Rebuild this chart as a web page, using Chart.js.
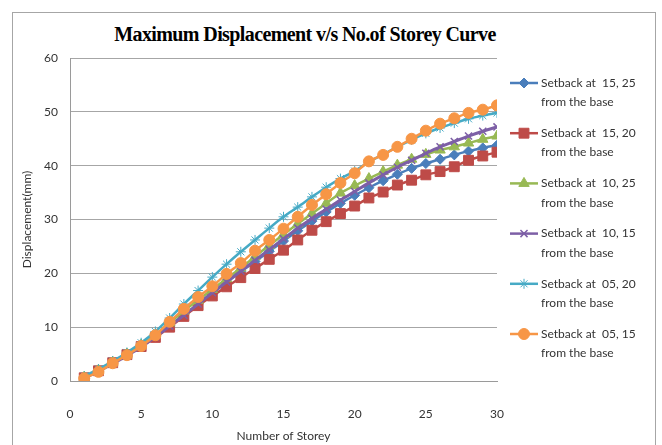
<!DOCTYPE html>
<html>
<head>
<meta charset="utf-8">
<script src="https://cdn.jsdelivr.net/npm/chart.js@4.4.1/dist/chart.umd.min.js"></script>
<style>
    html, body { margin: 0; padding: 0; background: #fff; }
    #wrap { position: relative; width: 662px; height: 445px; overflow: hidden; }
    #frame { position: absolute; left: 12px; top: 12px; width: 642px; height: 460px; border: 1px solid #a6a6a6; }
    #title { position: absolute; left: 0; width: 610px; top: 23px; text-align: center; font: bold 20px 'Liberation Serif', serif; letter-spacing: -0.6px; color: #000; }
    canvas { position: absolute; left: 0; top: 0; }
</style>
</head>
<body>
<div id="wrap">
    <div id="frame"></div>
    <div id="title">Maximum Displacement v/s No.of Storey Curve</div>
    <canvas id="myChart" width="662" height="445"></canvas>
</div>
<script>
var storeys = [1, 2, 3, 4, 5, 6, 7, 8, 9, 10, 11, 12, 13, 14, 15, 16, 17, 18, 19, 20, 21, 22, 23, 24, 25, 26, 27, 28, 29, 30];

var setback1525 = [0.6, 1.9, 3.4, 4.9, 6.5, 8.3, 10.3, 12.3, 14.3, 16.3, 18.3, 20.3, 22.2, 24.1, 26.0, 27.9, 29.7, 31.4, 33.0, 34.5, 35.9, 37.2, 38.4, 39.5, 40.4, 41.2, 42.0, 42.7, 43.3, 43.8];
var setback1520 = [0.6, 1.9, 3.4, 4.9, 6.4, 8.1, 10.0, 12.0, 14.0, 15.8, 17.5, 19.2, 20.9, 22.6, 24.3, 26.2, 28.0, 29.6, 31.1, 32.5, 34.0, 35.1, 36.4, 37.3, 38.3, 38.9, 39.8, 41.0, 41.8, 42.5];
var setback1025 = [0.7, 2.0, 3.5, 5.0, 6.7, 8.6, 10.8, 13.0, 15.0, 17.0, 19.0, 21.0, 23.1, 25.2, 27.2, 29.2, 31.1, 33.0, 34.9, 36.3, 37.6, 38.9, 40.1, 41.2, 42.1, 42.9, 43.5, 44.2, 44.9, 45.5];
var setback1015 = [0.6, 1.8, 3.2, 4.7, 6.3, 8.2, 10.2, 12.2, 14.3, 16.4, 18.4, 20.4, 22.4, 24.4, 26.4, 28.4, 30.2, 31.9, 33.6, 35.2, 36.8, 38.3, 39.7, 41.0, 42.3, 43.5, 44.5, 45.5, 46.4, 47.2];
var setback0520 = [0.9, 2.2, 3.7, 5.3, 7.1, 9.2, 11.7, 14.3, 16.8, 19.3, 21.7, 24.0, 26.2, 28.4, 30.5, 32.3, 34.2, 36.0, 37.6, 39.0, 40.7, 42.1, 43.5, 44.8, 46.0, 47.0, 47.9, 48.7, 49.3, 49.8];
var setback0515 = [0.5, 1.7, 3.3, 4.8, 6.5, 8.5, 11.0, 13.4, 15.6, 17.6, 19.9, 21.9, 24.2, 26.2, 28.3, 30.5, 32.7, 34.7, 36.8, 38.6, 40.8, 42.0, 43.5, 45.0, 46.5, 47.8, 48.8, 49.8, 50.4, 51.2];

var seriesLabels = [
    ['Setback at  15, 25', 'from the base'],
    ['Setback at  15, 20', 'from the base'],
    ['Setback at  10, 25', 'from the base'],
    ['Setback at  10, 15', 'from the base'],
    ['Setback at  05, 20', 'from the base'],
    ['Setback at  05, 15', 'from the base']
];

function pts(vals) {
    return storeys.map(function (s, i) { return {x: s, y: vals[i]}; });
}

var styles = [
    {color: '#4a7ebb', point: 'rectRot', r: 5, bw: 1, lw: 2.5},
    {color: '#be4b48', point: 'rect', r: 7, bw: 1, lw: 2.5},
    {color: '#98b954', point: 'triangle', r: 6, bw: 1, lw: 2.5},
    {color: '#7d5fa6', point: 'crossRot', r: 5, bw: 1.5, lw: 3},
    {color: '#46aac5', point: 'star', r: 5, bw: 1, lw: 2.5},
    {color: '#f79646', point: 'circle', r: 5.5, bw: 1, lw: 2.5}
];
var allSeries = [setback1525, setback1520, setback1025, setback1015, setback0520, setback0515];

var datasets = allSeries.map(function (vals, i) {
    var st = styles[i];
    return {
        label: seriesLabels[i],
        data: pts(vals),
        borderColor: st.color,
        backgroundColor: st.color,
        pointBackgroundColor: st.color,
        pointBorderColor: st.color,
        pointStyle: st.point,
        pointRadius: st.r,
        pointBorderWidth: st.bw,
        borderWidth: st.lw,
        tension: 0.3,
        order: 5 - i
    };
});

// legend on the right: line with marker, two-line label
var sideLegend = {
    id: 'sideLegend',
    afterDraw: function (chart) {
        var ctx = chart.ctx;
        ctx.save();
        chart.data.datasets.forEach(function (ds, i) {
            var y = 83 + i * 50.2;
            ctx.strokeStyle = ds.borderColor;
            ctx.lineWidth = 2.5;
            ctx.beginPath();
            ctx.moveTo(510, y);
            ctx.lineTo(538, y);
            ctx.stroke();
            if (Chart.helpers && Chart.helpers.drawPoint) {
                ctx.fillStyle = ds.pointBackgroundColor;
                ctx.strokeStyle = ds.pointBorderColor;
                ctx.lineWidth = ds.pointBorderWidth;
                Chart.helpers.drawPoint(ctx, {pointStyle: ds.pointStyle, radius: ds.pointRadius, borderWidth: ds.pointBorderWidth, rotation: 0}, 524, y);
            }
            ctx.fillStyle = '#333';
            ctx.font = '12px Lato, sans-serif';
            ctx.textBaseline = 'middle';
            ctx.textAlign = 'left';
            ds.label.forEach(function (t, k) {
                ctx.fillText(t, 541, y + k * 19.3);
            });
        });
        ctx.restore();
    }
};

new Chart(document.getElementById('myChart'), {
    type: 'line',
    data: {datasets: datasets},
    options: {
        responsive: false,
        animation: false,
        layout: {padding: {left: 14, right: 165, top: 58, bottom: 0}},
        plugins: {
            legend: {display: false},
            title: {display: false},
            tooltip: {enabled: false}
        },
        scales: {
            x: {
                type: 'linear',
                min: 0,
                max: 30,
                ticks: {stepSize: 5, padding: 18, color: '#333', font: {family: 'Lato', size: 12}},
                grid: {display: false},
                border: {display: true, color: '#9a9a9a'},
                title: {display: true, text: 'Number of Storey', color: '#333', font: {family: 'Lato', size: 12}, padding: {top: 4, bottom: 2}},
                afterFit: function (s) { s.height = 64; }
            },
            y: {
                min: 0,
                max: 60,
                ticks: {stepSize: 10, padding: 12, color: '#333', font: {family: 'Lato', size: 12}},
                grid: {color: '#a6a6a6', drawTicks: false},
                border: {display: true, color: '#9a9a9a'},
                title: {display: true, text: 'Displacement(mm)', color: '#333', font: {family: 'Lato', size: 12}, padding: {top: 6, bottom: 4}},
                afterFit: function (s) { s.width = 56; }
            }
        }
    },
    plugins: [sideLegend]
});
</script>
</body>
</html>
